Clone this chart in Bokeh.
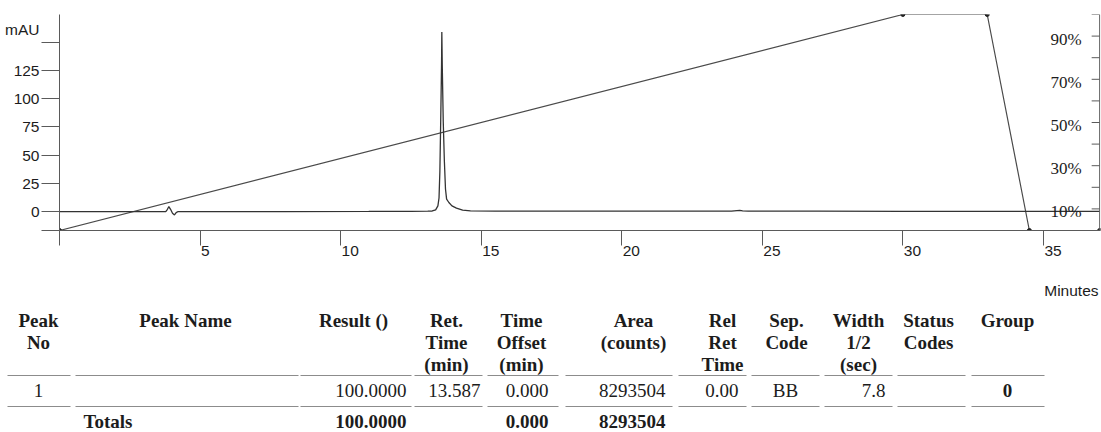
from math import pi
from bokeh.plotting import figure
from bokeh.models import Range1d, FixedTicker, CustomJSTickFormatter, Span, Label
from bokeh.core.properties import value
from bokeh.embed import file_html
from bokeh.resources import INLINE

# ---------------- data ----------------
trace_time = [0.0, 1.0, 2.0, 3.0, 3.78, 3.84, 3.89, 3.95, 4.02, 4.09, 4.15, 4.22, 5.0, 8.0, 11.0,
              12.5, 13.1, 13.26, 13.38, 13.46, 13.50, 13.53, 13.56, 13.59, 13.60, 13.615, 13.65,
              13.69, 13.73, 13.77, 13.85, 13.96, 14.12, 14.34, 14.62, 15.5, 18.0, 21.0, 23.9,
              24.1, 24.2, 24.3, 24.5, 27.0, 30.0, 33.0, 35.0, 37.0]
trace_mau = [0.0, 0.0, 0.0, 0.0, 0.0, 2.0, 4.4, 2.0, -1.5, -3.0, -1.0, 0.0, 0.0, 0.0, 0.1,
             0.2, 0.3, 0.5, 1.5, 5.0, 12.0, 35.0, 80.0, 130.0, 159.0, 130.0, 80.0,
             45.0, 20.0, 11.0, 8.0, 5.0, 3.0, 1.2, 0.6, 0.4, 0.3, 0.3, 0.3,
             0.8, 1.0, 0.6, 0.3, 0.3, 0.2, 0.2, 0.2, 0.2]

grad_time = [0.0, 30.0, 33.0, 34.5, 37.0]
grad_pct = [0.0, 100.0, 100.0, 0.0, 0.0]

x_ticks = [0, 5, 10, 15, 20, 25, 30, 35]
x_labeled = [5, 10, 15, 20, 25, 30, 35]
y_ticks = [0, 25, 50, 75, 100, 125, 150]
y_labeled = [0, 25, 50, 75, 100, 125]
y_unit = "mAU"
x_unit = "Minutes"
pct_ticks = [0, 10, 20, 30, 40, 50, 60, 70, 80, 90, 100]
pct_labels = [10, 30, 50, 70, 90]

headers = [["Peak", "No"], ["Peak Name"], ["Result ()"], ["Ret.", "Time", "(min)"],
           ["Time", "Offset", "(min)"], ["Area", "(counts)"], ["Rel", "Ret", "Time"],
           ["Sep.", "Code"], ["Width", "1/2", "(sec)"], ["Status", "Codes"], ["Group"]]
row1 = ["1", "", "100.0000", "13.587", "0.000", "8293504", "0.00", "BB", "7.8", "", "0"]
totals = ["", "Totals", "100.0000", "", "0.000", "8293504", "", "", "", "", ""]

# ---------------- layout constants ----------------
W, HC, HT = 1101, 278, 154
FL, FR, FT, FB = 59, 1100, 14, 230          # frame edges in page pixels
X0, X1 = 0.0, 37.03
Y0, Y1 = -16.8, 174.6
SANS = "Liberation Sans"
SERIF = "Liberation Serif"
FS_AX = 15.5
INK = "#1c1c1c"
AX = "#5a5a5a"

p = figure(width=W, height=HC, output_backend="svg", toolbar_location=None,
           x_range=Range1d(X0, X1), y_range=Range1d(Y0, Y1),
           min_border_left=FL, min_border_right=W - FR, min_border_top=FT, min_border_bottom=HC - FB)
p.extra_y_ranges = {"pct": Range1d(0, 100)}
p.outline_line_color = None
p.grid.visible = False

# ---- left axis: visible marks are the minor ticks, labels sit on (invisible) major ticks
px_per_mau = (FB - FT) / (Y1 - Y0)
unit_pos = (FB - 29) / px_per_mau + Y0          # where the unit name sits
p.yaxis.ticker = FixedTicker(ticks=y_labeled + [unit_pos], minor_ticks=[Y0 + 0.01] + y_ticks)
p.yaxis.formatter = CustomJSTickFormatter(
    code="return tick > 140 ? '%s' : tick.toFixed(0);" % y_unit)
p.yaxis.major_tick_out = 18
p.yaxis.major_tick_in = 0
p.yaxis.major_tick_line_color = None
p.yaxis.minor_tick_out = 18
p.yaxis.minor_tick_in = 0
p.yaxis.minor_tick_line_color = AX
p.yaxis.axis_line_color = AX
p.yaxis.major_label_standoff = 2
p.yaxis.major_label_text_font = SANS
p.yaxis.major_label_text_font_size = "%spx" % FS_AX
p.yaxis.major_label_text_color = INK

# ---- bottom axis: tick marks = minor ticks; labels shifted right of their tick
px_per_min = (FR - FL) / (X1 - X0)
def label_pos(t):
    w = 0.556 * FS_AX * len(str(t))
    return t + (1 + w / 2) / px_per_min
p.xaxis.ticker = FixedTicker(ticks=[label_pos(t) for t in x_labeled], minor_ticks=x_ticks)
p.xaxis.formatter = CustomJSTickFormatter(code="return Math.floor(tick).toFixed(0);")
p.xaxis.major_tick_out = 10
p.xaxis.major_tick_in = 0
p.xaxis.major_tick_line_color = None
p.xaxis.minor_tick_out = 15
p.xaxis.minor_tick_in = 0
p.xaxis.minor_tick_line_color = AX
p.xaxis.axis_line_color = AX
p.xaxis.major_label_standoff = 0
p.xaxis.major_label_text_font = SANS
p.xaxis.major_label_text_font_size = "%spx" % FS_AX
p.xaxis.major_label_text_color = INK

# ---- right (gradient %) axis
p.add_layout(Span(location=37.0, dimension="height", line_color=AX, line_width=1))
p.ray(x=[37.0] * len(pct_ticks), y=pct_ticks, length=8, length_units="screen", angle=pi,
      line_color=AX, line_width=1, y_range_name="pct")
for v in pct_labels:
    p.add_layout(Label(x=37.0, y=v, y_range_name="pct", x_offset=-18, y_offset=-3,
                       text="%d%%" % v, text_align="right", text_baseline="middle",
                       text_font=SERIF, text_font_size="17px", text_color=INK))

# gradient
p.line(grad_time, grad_pct, y_range_name="pct", line_color="#4a4a4a", line_width=1.2)
p.scatter(grad_time, grad_pct, y_range_name="pct", size=4, color="#222222")

# chromatogram
p.line(trace_time, trace_mau, line_color="#333333", line_width=1.3)

# ---------------- table (separate root, so its frame is not aligned to the chart) ----------------
tb = figure(width=W, height=HT, output_backend="svg", toolbar_location=None,
            x_range=Range1d(0, W), y_range=Range1d(HT, 0),
            x_axis_type=None, y_axis_type=None, min_border=0)
tb.outline_line_color = None

OY = HC  # page y of this figure's top
col_cx = [38, 185, 353, 446, 521, 633, 722, 786, 858, 928, 1007]
val_x = [38, 83, 406, 480, 548, 665, 738, 785, 885, 928, 1007]
val_align = ["center", "left", "right", "right", "right", "right", "right", "center", "right", "center", "center"]
seg_x0 = [7, 75, 300, 414, 487, 565, 678, 751, 824, 897, 971]
seg_x1 = [70, 298, 411, 482, 558, 672, 746, 819, 892, 965, 1044]
head_y = [320, 342, 364]
line_y = [375, 406]
row_y = 390
tot_y = 421

hx, hy, ht = [], [], []
for cx, lines in zip(col_cx, headers):
    for k, s in enumerate(lines):
        hx.append(cx); hy.append(head_y[k] - OY); ht.append(s)
tb.text(x=hx, y=hy, text=ht, text_align="center", text_baseline="middle",
        text_font=value(SERIF), text_font_style="bold", text_font_size="19px", text_color=INK)

for ly in line_y:
    tb.segment(x0=seg_x0, x1=seg_x1, y0=[ly - OY] * len(seg_x0), y1=[ly - OY] * len(seg_x0),
               line_color="#8c8c8c", line_width=1.1)

for i, s in enumerate(row1):
    if s:
        tb.text(x=[val_x[i]], y=[row_y - OY], text=[s], text_align=val_align[i],
                text_baseline="middle", text_font=value(SERIF),
                text_font_style="bold" if i == 10 else "normal", text_font_size="19px",
                text_color=INK)
for i, s in enumerate(totals):
    if s:
        tb.text(x=[val_x[i]], y=[tot_y - OY], text=[s], text_align=val_align[i],
                text_baseline="middle", text_font=value(SERIF), text_font_style="bold",
                text_font_size="19px", text_color=INK)

tb.text(x=[1098], y=[290 - OY], text=[x_unit], text_align="right", text_baseline="middle",
        text_font=value(SANS), text_font_size="%spx" % FS_AX, text_color=INK)

open("out.html", "w").write(file_html([p, tb], INLINE))
